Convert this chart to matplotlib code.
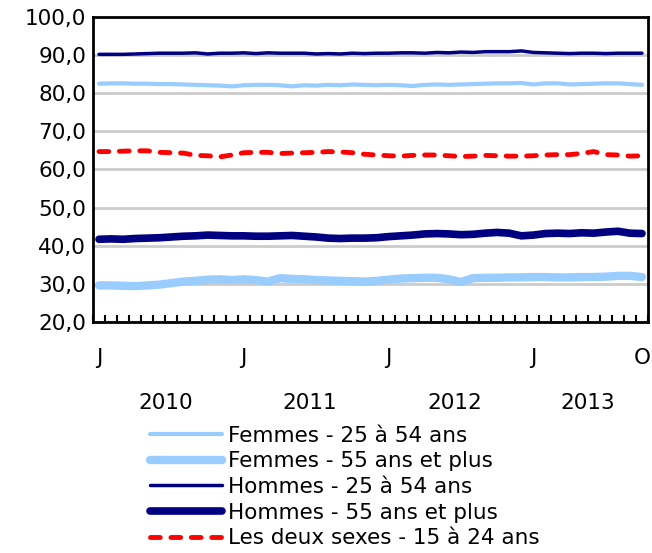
import numpy as np
import matplotlib
matplotlib.use("Agg")
import matplotlib.pyplot as plt
from matplotlib.ticker import FixedLocator, FuncFormatter

# monthly series, Jan 2010 .. Oct 2013
years = [2010, 2011, 2012, 2013]
months_per_year = [12, 12, 12, 10]
month_letters = ["J", "F", "M", "A", "M", "J", "J", "A", "S", "O", "N", "D"]

femmes_25_54 = [82.5, 82.6, 82.6, 82.5, 82.5, 82.4, 82.4, 82.3, 82.2, 82.1, 82.0, 81.8,
                82.1, 82.2, 82.2, 82.1, 81.8, 82.1, 82.0, 82.2, 82.1, 82.3, 82.2, 82.1,
                82.2, 82.1, 81.9, 82.2, 82.3, 82.2, 82.3, 82.4, 82.5, 82.6, 82.6, 82.7,
                82.3, 82.6, 82.6, 82.3, 82.4, 82.5, 82.6, 82.6, 82.4, 82.2]
femmes_55_plus = [29.6, 29.6, 29.5, 29.4, 29.6, 29.8, 30.2, 30.6, 30.8, 31.1, 31.2, 31.0,
                  31.2, 31.0, 30.6, 31.5, 31.3, 31.2, 31.0, 30.9, 30.8, 30.7, 30.6, 30.8,
                  31.1, 31.4, 31.5, 31.6, 31.6, 31.2, 30.5, 31.5, 31.6, 31.6, 31.7, 31.7,
                  31.8, 31.8, 31.7, 31.7, 31.8, 31.8, 31.9, 32.1, 32.1, 31.8]
hommes_25_54 = [90.2, 90.2, 90.2, 90.3, 90.4, 90.5, 90.5, 90.5, 90.6, 90.3, 90.5, 90.5,
                90.6, 90.4, 90.6, 90.5, 90.5, 90.5, 90.3, 90.4, 90.3, 90.5, 90.4, 90.5,
                90.5, 90.6, 90.6, 90.5, 90.7, 90.6, 90.8, 90.7, 90.9, 90.9, 90.9, 91.1,
                90.7, 90.6, 90.5, 90.4, 90.5, 90.5, 90.4, 90.5, 90.5, 90.5]
hommes_55_plus = [41.7, 41.8, 41.7, 41.9, 42.0, 42.1, 42.3, 42.5, 42.6, 42.8, 42.7, 42.6,
                  42.6, 42.5, 42.5, 42.6, 42.7, 42.5, 42.3, 42.0, 41.9, 42.0, 42.0, 42.1,
                  42.4, 42.6, 42.8, 43.1, 43.2, 43.1, 42.9, 43.0, 43.3, 43.5, 43.3, 42.6,
                  42.8, 43.2, 43.3, 43.2, 43.4, 43.3, 43.6, 43.8, 43.3, 43.2]
deux_sexes_15_24 = [64.7, 64.7, 64.8, 64.9, 64.9, 64.5, 64.4, 64.3, 63.7, 63.6, 63.3, 63.8,
                    64.4, 64.5, 64.5, 64.2, 64.3, 64.4, 64.5, 64.7, 64.6, 64.4, 64.0, 63.8,
                    63.6, 63.5, 63.7, 63.8, 63.8, 63.6, 63.4, 63.5, 63.7, 63.6, 63.5, 63.5,
                    63.6, 63.8, 63.9, 63.9, 64.2, 64.7, 63.9, 63.8, 63.5, 63.6]

labels = ["Femmes - 25 à 54 ans", "Femmes - 55 ans et plus", "Hommes - 25 à 54 ans",
          "Hommes - 55 ans et plus", "Les deux sexes - 15 à 24 ans"]

LIGHT = "#99CCFF"
NAVY = "#000080"
RED = "#FF0000"
FS = 15.5

plt.rcParams["font.family"] = "DejaVu Sans"

fig = plt.figure(figsize=(6.52, 5.53), dpi=100)
ax = fig.add_axes([0.1426, 0.4177, 0.8513, 0.5516])

x = np.arange(len(femmes_25_54))

ax.plot(x, femmes_25_54, color=LIGHT, lw=3.0, solid_capstyle="round", label=labels[0], zorder=3)
ax.plot(x, femmes_55_plus, color=LIGHT, lw=6.0, solid_capstyle="round", label=labels[1], zorder=3)
ax.plot(x, hommes_25_54, color=NAVY, lw=2.5, solid_capstyle="round", label=labels[2], zorder=3)
ax.plot(x, hommes_55_plus, color=NAVY, lw=5.5, solid_capstyle="round", label=labels[3], zorder=3)
ax.plot(x, deux_sexes_15_24, color=RED, lw=3.5, dashes=(2.0, 2.2), dash_capstyle="round",
        label=labels[4], zorder=3)

ax.set_xlim(-0.5, len(x) - 0.5)
ax.set_ylim(20, 100)
ax.set_yticks(np.arange(20, 101, 10))
ax.yaxis.set_major_formatter(FuncFormatter(lambda v, p: f"{v:.1f}".replace(".", ",")))
ax.tick_params(axis="y", length=0, pad=5, labelsize=FS)
ax.grid(axis="y", color="#CCCCCC", lw=2, zorder=1)

# month letters: J for each January plus the last month
starts = np.cumsum([0] + months_per_year[:-1])
major = list(starts) + [len(x) - 1]
major_labels = ["J"] * len(starts) + [month_letters[(len(x) - 1) % 12]]
ax.set_xticks(major)
ax.set_xticklabels(major_labels)
ax.tick_params(axis="x", which="major", length=0, pad=19, labelsize=FS)
ax.xaxis.set_minor_locator(FixedLocator(np.arange(-0.5, len(x), 1.0)))
ax.tick_params(axis="x", which="minor", direction="in", length=5, width=1.5, color="black")

for yr, s, n in zip(years, starts, months_per_year):
    ax.text(s + (n - 1) / 2, -0.265, str(yr), transform=ax.get_xaxis_transform(),
            ha="center", va="center", fontsize=FS)

for sp in ax.spines.values():
    sp.set_color("black")
    sp.set_linewidth(2)

fig.legend(loc="upper left", bbox_to_anchor=(0.230, 0.230), frameon=False, fontsize=FS,
           handlelength=3.35, handletextpad=0.28, labelspacing=0.26, borderpad=0,
           borderaxespad=0)

fig.savefig("out.png", dpi=100)
